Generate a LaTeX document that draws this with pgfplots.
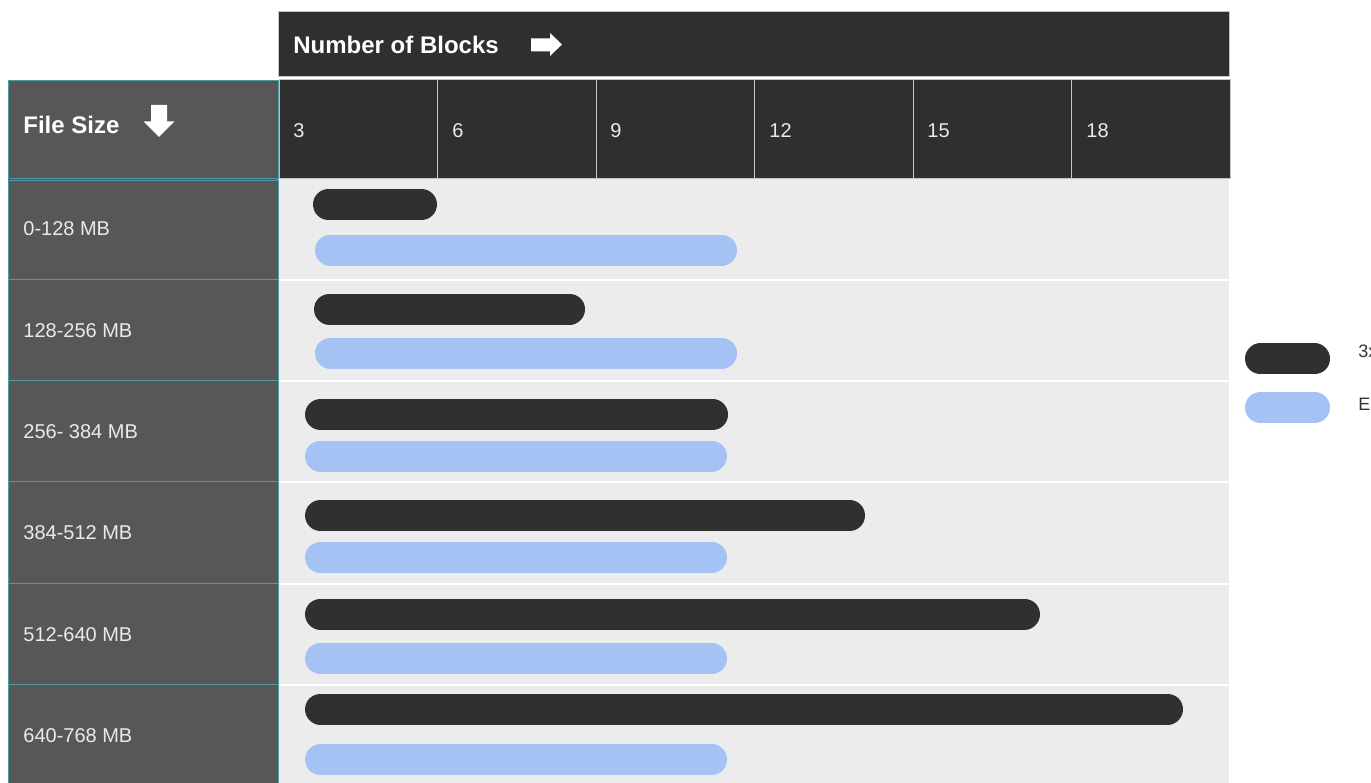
\documentclass[border=0pt]{standalone}
\usepackage{fontspec}
\setmainfont{Liberation Sans}
\usepackage{pgfplots}
\pgfplotsset{compat=1.18}
\definecolor{hdr}{HTML}{2F2F2F}
\definecolor{hdrline}{HTML}{C4C4C4}
\definecolor{leftcol}{HTML}{575757}
\definecolor{teal}{HTML}{4F9AA6}
\definecolor{plotbg}{HTML}{ECECEC}
\definecolor{bardark}{HTML}{303030}
\definecolor{barlight}{HTML}{A4C2F4}
\definecolor{lbltext}{HTML}{EAEAEA}
\definecolor{legtext}{HTML}{333333}
\begin{document}
\begin{tikzpicture}
\useasboundingbox (0,0) rectangle (685.5pt,391pt);
\clip (0,0) rectangle (685.5pt,391pt);
% ---------- background table (pixel coordinates) ----------
\begin{scope}[x=0.5pt,y=-0.5pt,shift={(0pt,391pt)}]
  % top header bar
  \fill[hdr] (278,12) rectangle (1229,77);
  \draw[hdrline,line width=0.5pt] (278,12) rectangle (1229,77);
  % column header cells
  \foreach \a/\b in {279/437,437/596,596/754,754/913,913/1071,1071/1230}{
    \fill[hdr] (\a,80) rectangle (\b,179);
    \draw[hdrline,line width=0.5pt] (\a,80) rectangle (\b,179);
  }
  % plot background
  \fill[plotbg] (279,179) rectangle (1229,790);
  \foreach \y in {280.5,381.5,482.5,584,685.5}{
    \draw[white,line width=1pt] (279,\y) -- (1229,\y);
  }
  % left column
  \fill[leftcol] (8,81) rectangle (278,790);
  \draw[teal,line width=0.5pt] (8,81) rectangle (278,179);
  \foreach \a/\b in {181/280,280/381,381/482,482/584,584/685,685/790}{
    \draw[teal,line width=0.5pt] (8,\a) rectangle (278,\b);
  }
  % header texts
  \node[anchor=west,inner sep=0,text=white,font=\fontsize{12pt}{14pt}\selectfont\bfseries] at (293,44.5) {Number of Blocks};
  \fill[white] (531,38.5) -- (550,38.5) -- (550,33) -- (562,44.5) -- (550,56) -- (550,51.5) -- (531,51.5) -- cycle;
  \node[anchor=west,inner sep=0,text=white,font=\fontsize{12pt}{14pt}\selectfont\bfseries] at (23,125) {File Size};
  \fill[white] (151,105) -- (167,105) -- (167,121.5) -- (174.5,121.5) -- (159,137) -- (143.5,121.5) -- (151,121.5) -- cycle;
  % column labels
  \foreach \x/\t in {293/3,452/6,610/9,769/12,927/15,1086/18}{
    \node[anchor=west,inner sep=0,text=lbltext,font=\fontsize{10pt}{12pt}\selectfont] at (\x,130.5) {\t};
  }
  % row labels
  \foreach \y/\t in {228.5/0-128 MB,330.5/128-256 MB,432/256- 384 MB,533/384-512 MB,635/512-640 MB,736/640-768 MB}{
    \node[anchor=west,inner sep=0,text=lbltext,font=\fontsize{10pt}{12pt}\selectfont] at (23,\y) {\t};
  }
\end{scope}
% ---------- bars ----------
\begin{axis}[width=685.5pt,height=391pt,scale only axis,
  xmin=-5.2811,xmax=20.6701,ymin=0,ymax=782,y dir=reverse,
  hide axis,clip=false]
\pgfplotsset{dk/.style={draw=bardark,line width=15.5pt,line cap=round,mark=none},
             lt/.style={draw=barlight,line width=15.5pt,line cap=round,mark=none}}
% 3x replication (dark)
\addplot[dk] coordinates {(0.937,204.5) (2.697,204.5)};
\addplot[dk] coordinates {(0.956,309) (5.499,309)};
\addplot[dk] coordinates {(0.786,414.5) (8.206,414.5)};
\addplot[dk] coordinates {(0.786,515.5) (10.799,515.5)};
\addplot[dk] coordinates {(0.786,614) (14.111,614)};
\addplot[dk] coordinates {(0.786,709) (16.818,709)};
% erasure coding (light)
\addplot[lt] coordinates {(0.975,250) (8.376,250)};
\addplot[lt] coordinates {(0.975,353) (8.376,353)};
\addplot[lt] coordinates {(0.786,456) (8.187,456)};
\addplot[lt] coordinates {(0.786,557.5) (8.187,557.5)};
\addplot[lt] coordinates {(0.786,658.5) (8.187,658.5)};
\addplot[lt] coordinates {(0.786,759.5) (8.187,759.5)};
\end{axis}
% ---------- legend ----------
\begin{scope}[x=0.5pt,y=-0.5pt,shift={(0pt,391pt)}]
  \draw[bardark,line width=15.5pt,line cap=round] (1260.5,359) -- (1314.5,359);
  \draw[barlight,line width=15.5pt,line cap=round] (1260.5,407.5) -- (1314.5,407.5);
  \node[anchor=west,inner sep=0,text=legtext,font=\fontsize{9pt}{11pt}\selectfont] at (1358,353) {3x Replication};
  \node[anchor=west,inner sep=0,text=legtext,font=\fontsize{9pt}{11pt}\selectfont] at (1358,406) {Erasure Coding};
\end{scope}
\end{tikzpicture}
\end{document}
